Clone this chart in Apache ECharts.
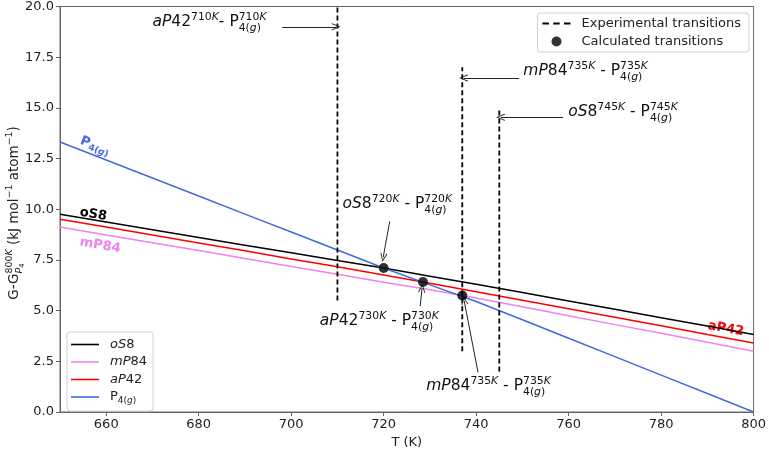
<!DOCTYPE html>
<html><head><meta charset="utf-8">
<script src="https://cdn.jsdelivr.net/npm/echarts@6/dist/echarts.min.js"></script>
<style>html,body{margin:0;padding:0;background:#fff}#c{width:769px;height:454px}</style>
</head><body><div id="c"></div>
<script>
// ---------- data ----------
const temps = [650,660,670,680,690,700,710,720,730,740,750,760,770,780,790,800];
const oS8  = [9.75,9.37,8.99,8.61,8.23,7.85,7.47,7.10,6.70,6.30,5.89,5.48,5.07,4.65,4.24,3.82];
const mP84 = [9.12,8.73,8.35,7.96,7.57,7.18,6.79,6.40,6.03,5.62,5.19,4.75,4.31,3.88,3.44,3.00];
const aP42 = [9.51,9.12,8.73,8.34,7.95,7.55,7.16,6.76,6.35,5.93,5.51,5.09,4.67,4.25,3.82,3.40];
const P4g  = [13.32,12.43,11.54,10.65,9.76,8.88,7.99,7.10,6.27,5.45,4.55,3.64,2.73,1.82,0.91,0.00];
const expT    = [710, 737, 745];     // experimental transition temperatures
const expLow  = [5.5, 3.0, 2.0];
const expHigh = [20, 17, 15];
const calcT = [720, 728.5, 737];     // calculated transitions
const calcG = [7.10, 6.41, 5.75];
const xTicks = [660,680,700,720,740,760,780,800];

// ---------- annotation text / placement ----------
const annotations = [
  {runs:[['aP','i'],['42',''],['710','^'],['K','^i'],['- P',''],['710','^'],['K','^i'],['4(','_&'],['g','_i'],[')','_']],
   at:[670.0,19.23], arrow:[[698.1,19.0],[709.7,19.0]]},
  {runs:[['mP','i'],['84',''],['735','^'],['K','^i'],[' - P',''],['735','^'],['K','^i'],['4(','_&'],['g','_i'],[')','_']],
   at:[750.2,16.8], arrow:[[749.3,16.47],[737.3,16.47]]},
  {runs:[['oS','i'],['8',''],['745','^'],['K','^i'],[' - P',''],['745','^'],['K','^i'],['4(','_&'],['g','_i'],[')','_']],
   at:[759.9,14.8], arrow:[[758.8,14.54],[745.3,14.54]]},
  {runs:[['oS','i'],['8',''],['720','^'],['K','^i'],[' - P',''],['720','^'],['K','^i'],['4(','_&'],['g','_i'],[')','_']],
   at:[711.1,10.27], arrow:[[721.3,9.40],[719.9,7.63]]},
  {runs:[['aP','i'],['42',''],['730','^'],['K','^i'],[' - P',''],['730','^'],['K','^i'],['4(','_&'],['g','_i'],[')','_']],
   at:[706.2,4.50], arrow:[[727.9,5.22],[728.3,6.10]]},
  {runs:[['mP','i'],['84',''],['735','^'],['K','^i'],[' - P',''],['735','^'],['K','^i'],['4(','_&'],['g','_i'],[')','_']],
   at:[729.2,1.29], arrow:[[740.4,1.96],[737.4,5.49]]}
];
const lineLabels = [
  {runs:[['P','b'],['4(','_b'],['g','_bi'],[')','_b']], at:[654.5,13.40], color:'#4169e1', series:P4g, subDy:0.28},
  {runs:[['oS8','b']], at:[654.3,9.86], color:'#000000', series:oS8},
  {runs:[['mP84','b']], at:[654.3,8.39], color:'#ee82ee', series:mP84},
  {runs:[['aP42','b']], at:[794.0,4.10], color:'#ff0000', series:oS8, center:true, bg:true}
];

const FAM = 'DejaVu Sans';
const ARROW = 'path://M0,10 L5,0 L10,10 L9,10.8 L5,2.4 L1,10.8 Z';
const LINE_ICON = 'path://M0,0 L28,0 L28,1.6 L0,1.6 Z';

const chart = echarts.init(document.getElementById('c'), null, {renderer:'canvas'});

const lineSeries = (name, vals, color) => ({
  name, type:'line', data: temps.map((t,i)=>[t, vals[i]]), showSymbol:false, symbol:'none',
  lineStyle:{color, width:1.5}, itemStyle:{color}, silent:true, z:2
});

const series = [
  lineSeries('oS8', oS8, '#000000'),
  lineSeries('mP84', mP84, '#ee82ee'),
  lineSeries('aP42', aP42, '#ff0000'),
  lineSeries('P4(g)', P4g, '#4169e1')
];
expT.forEach((t,i)=>{
  series.push({name:'Experimental transitions', type:'line', data:[[t,expLow[i]],[t,expHigh[i]]],
    showSymbol:false, symbol:'none', lineStyle:{color:'#000', width:1.8, type:[5,3]}, itemStyle:{color:'#000'}, z:3, silent:true});
});
series.push({name:'Calculated transitions', type:'scatter', data: calcT.map((t,i)=>[t, calcG[i]]),
  symbolSize:10, itemStyle:{color:'#000'}, z:5, silent:true,
  markLine:{silent:true, symbol:['none', ARROW], symbolSize:[7,9], label:{show:false},
    lineStyle:{color:'#222', width:1, type:'solid'}, emphasis:{disabled:true},
    data: annotations.map(a=>[{coord:a.arrow[0]},{coord:a.arrow[1]}])}
});

const legendRich = {
  i:{fontStyle:'italic', fontSize:13, fontFamily:FAM, color:'#222'},
  n:{fontSize:13, fontFamily:FAM, color:'#222'},
  s:{fontSize:9, fontFamily:FAM, color:'#222', padding:[7,0,0,0]},
  si:{fontSize:9, fontFamily:FAM, fontStyle:'italic', color:'#222', padding:[7,0,0,0]},
  pad:{width:6}
};
const legendFmt = {
  'oS8':'{pad|}{i|oS}{n|8}', 'mP84':'{pad|}{i|mP}{n|84}', 'aP42':'{pad|}{i|aP}{n|42}',
  'P4(g)':'{pad|}{n|P}{s|4(}{si|g}{s|)}'
};

const option = {
  animation:false,
  backgroundColor:'#ffffff',
  grid:{left:60, right:13, top:5, bottom:34, show:true, borderColor:'#666', borderWidth:1, backgroundColor:'transparent'},
  xAxis:{type:'value', min:650, max:800,
    name:'T (K)', nameLocation:'middle', nameGap:24, nameTextStyle:{fontSize:13, color:'#222', fontFamily:FAM},
    axisLine:{show:true, onZero:false, lineStyle:{color:'#666'}},
    axisTick:{show:true, length:4, customValues:xTicks, lineStyle:{color:'#666'}},
    axisLabel:{customValues:xTicks, fontSize:13, color:'#222', fontFamily:FAM, margin:6},
    splitLine:{show:false}},
  yAxis:{type:'value', min:0, max:20, interval:2.5,
    axisLine:{show:true, onZero:false, lineStyle:{color:'#666'}},
    axisTick:{show:true, length:4, lineStyle:{color:'#666'}},
    axisLabel:{formatter:v=>v.toFixed(1), fontSize:13, color:'#222', fontFamily:FAM, margin:6},
    splitLine:{show:false}},
  legend:[
    {left:67, top:332, orient:'vertical', itemWidth:28, itemHeight:14, itemGap:4.5, padding:[6,6,6,4],
     backgroundColor:'rgba(255,255,255,0.85)', borderColor:'#d0d0d0', borderWidth:1, borderRadius:3,
     data:['oS8','mP84','aP42','P4(g)'].map(n=>({name:n, icon:LINE_ICON})), formatter:n=>legendFmt[n],
     textStyle:{fontFamily:FAM, fontSize:13, color:'#222', rich:legendRich}, selectedMode:false},
    {right:20, top:13, orient:'vertical', itemWidth:28, itemHeight:10, itemGap:5, padding:[4,8,4,5],
     backgroundColor:'rgba(255,255,255,0.85)', borderColor:'#d0d0d0', borderWidth:1, borderRadius:3,
     data:[{name:'Experimental transitions', icon:'path://M0,0 L6,0 L6,2 L0,2 Z M10,0 L16,0 L16,2 L10,2 Z M20,0 L26,0 L26,2 L20,2 Z'},
           {name:'Calculated transitions', icon:'circle'}],
     textStyle:{fontFamily:FAM, fontSize:13, color:'#222', padding:[0,0,0,6]}, selectedMode:false}
  ],
  series
};
chart.setOption(option);

// ---------- text layout helpers ----------
const cv = document.createElement('canvas').getContext('2d');
function measure(t, size, it, b){
  cv.font = (it?'italic ':'normal ') + (b?'bold ':'normal ') + size + 'px "' + FAM + '"';
  return cv.measureText(t).width;
}
function build(runs, base, color, bold, subDy){
  let x=0, s0=0, sMax=0, prev=false; const items=[];
  for (const [t,f] of runs){
    const sc = /[\^_v]/.test(f);
    let size=base, dy=0;
    if (f.includes('v')) {size=base*0.5; dy=0.62*base;}
    else if (f.includes('^')) {size=base*0.7; dy=-0.32*base;}
    else if (f.includes('_')) {size=base*0.7; dy=(subDy||0.40)*base;}
    const it=f.includes('i'); const b = bold || f.includes('b');
    if (sc){ if(!prev){s0=x; sMax=x;} if(f.includes('&')) x=s0; }
    else if (prev) x=Math.max(x,sMax);
    items.push({type:'text', x, y:dy, style:{text:t, fill:color, fontSize:size, fontFamily:FAM,
      fontStyle: it?'italic':'normal', fontWeight: b?'bold':'normal', verticalAlign:'middle', align:'left'}});
    x += measure(t,size,it,b);
    if (sc) sMax=Math.max(sMax,x);
    prev=sc;
  }
  return {items, w: prev?Math.max(x,sMax):x};
}
const px = p => chart.convertToPixel({xAxisIndex:0, yAxisIndex:0}, p);

const graphics = [];
annotations.forEach(a=>{
  const {items} = build(a.runs, 15.5, '#111', false);
  const p = px(a.at);
  graphics.push({type:'group', x:p[0], y:p[1], z:100, silent:true, children:items});
});
lineLabels.forEach(l=>{
  const p0 = px([temps[0], l.series[0]]), p1 = px([temps[temps.length-1], l.series[l.series.length-1]]);
  const ang = Math.atan2(p1[1]-p0[1], p1[0]-p0[0]);
  const {items, w} = build(l.runs, 13, l.color, true, l.subDy);
  const kids = [];
  if (l.center){
    items.forEach(it=>{it.x -= w/2;});
    if (l.bg) kids.push({type:'rect', shape:{x:-w/2-6, y:-9, width:w+12, height:18}, style:{fill:'#ffffff'}});
  }
  const p = px(l.at);
  graphics.push({type:'group', x:p[0], y:p[1], rotation:-ang, z:100, silent:true, children:kids.concat(items)});
});
// y-axis title
{
  const runs=[['G-G',''],['800','^'],['K','^i'],['P','_&i'],['4','v'],[' (kJ mol',''],['\u22121','^'],[' atom',''],['\u22121','^'],[')','']];
  const {items, w} = build(runs, 13.5, '#222', false);
  items.forEach(it=>{it.x -= w/2;});
  graphics.push({type:'group', x:14, y:213, rotation:Math.PI/2, z:100, silent:true, children:items});
}
chart.setOption({graphic:graphics});
</script>
</body></html>
